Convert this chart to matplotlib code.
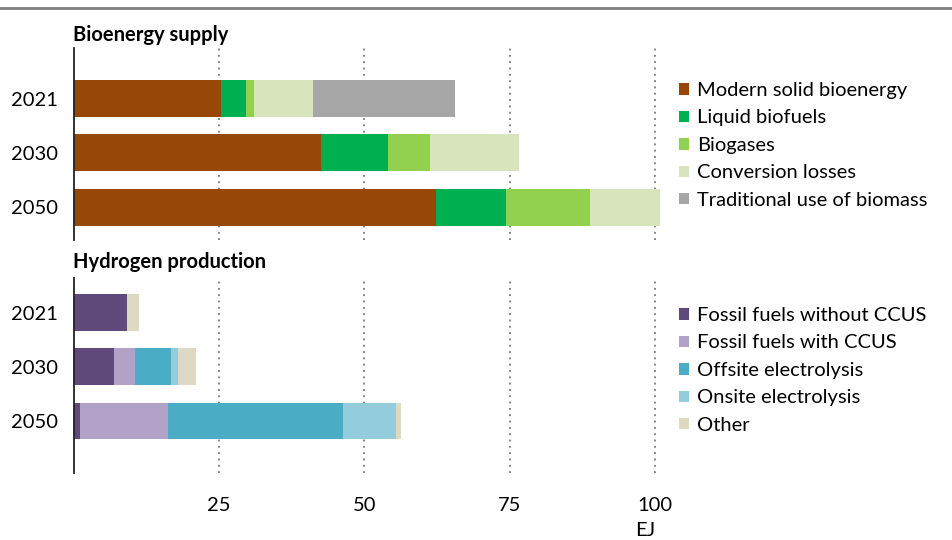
import numpy as np
import matplotlib
matplotlib.use("Agg")
import matplotlib.pyplot as plt
from matplotlib.lines import Line2D

plt.rcParams['font.family'] = ['Lato', 'DejaVu Sans']

years = ["2021", "2030", "2050"]

bio_labels = ["Modern solid bioenergy", "Liquid biofuels", "Biogases",
              "Conversion losses", "Traditional use of biomass"]
bio_colors = ["#974706", "#00B050", "#92D050", "#D8E4BC", "#A6A6A6"]
modern_solid = [25.3, 42.6, 62.4]
liquid_biofuels = [4.3, 11.5, 12.0]
biogases = [1.4, 7.2, 14.5]
conversion_losses = [10.2, 15.3, 11.9]
traditional_biomass = [24.4, 0, 0]

h2_labels = ["Fossil fuels without CCUS", "Fossil fuels with CCUS",
             "Offsite electrolysis", "Onsite electrolysis", "Other"]
h2_colors = ["#604A7B", "#B3A2C7", "#4BACC6", "#93CDDD", "#DDD9C3"]
fossil_no_ccus = [9.2, 6.9, 1.15]
fossil_ccus = [0, 3.7, 15.15]
offsite_elec = [0, 6.1, 30.0]
onsite_elec = [0, 1.2, 9.1]
other = [2.1, 3.2, 0.9]

xticks = [25, 50, 75, 100]

W, H = 952, 540
FS = 14.5
fig = plt.figure(figsize=(W / 100, H / 100), dpi=100)


def px_axes(left, top, right, bottom):
    return fig.add_axes([left / W, 1 - bottom / H, (right - left) / W, (bottom - top) / H])


def stacked(ax, series, colors, labels):
    y = np.arange(len(years))
    left = np.zeros(len(years))
    for vals, c, lab in zip(series, colors, labels):
        ax.barh(y, vals, left=left, height=0.68, color=c, label=lab)
        left += np.array(vals)
    ax.set_yticks(y)
    ax.set_yticklabels(years)
    ax.set_xlim(0, 105)
    ax.set_xticks(xticks)
    for s in ["top", "right", "bottom"]:
        ax.spines[s].set_visible(False)
    ax.spines["left"].set_linewidth(1.3)
    ax.spines["left"].set_color("#222222")
    ax.tick_params(axis="y", length=0, pad=11, labelsize=FS)
    ax.tick_params(axis="x", length=0)
    ax.grid(axis="x", linestyle=(0, (1, 2.5)), color="#777777", linewidth=1.3)
    ax.set_axisbelow(True)


ax1 = px_axes(73.5, 48, 684, 240)
stacked(ax1, [modern_solid, liquid_biofuels, biogases, conversion_losses, traditional_biomass],
        bio_colors, bio_labels)
ax1.set_ylim(2.6, -0.93)
ax1.set_xticklabels([])

ax2 = px_axes(73.5, 278, 684, 473)
stacked(ax2, [fossil_no_ccus, fossil_ccus, offsite_elec, onsite_elec, other],
        h2_colors, h2_labels)
ax2.set_ylim(2.96, -0.64)
ax2.tick_params(axis="x", pad=17, labelsize=FS)

leg_kw = dict(frameon=False, fontsize=FS, handlelength=0.5, handleheight=0.5,
              handletextpad=0.4, labelspacing=0.52, borderpad=0, borderaxespad=0,
              loc="upper left")
fig.legend(*ax1.get_legend_handles_labels(), bbox_to_anchor=(679 / W, 1 - 82 / H), **leg_kw)
fig.legend(*ax2.get_legend_handles_labels(), bbox_to_anchor=(679 / W, 1 - 307 / H), **leg_kw)

fig.text(73 / W, 1 - 35 / H, "Bioenergy supply", fontsize=FS, fontweight="bold", va="center")
fig.text(73 / W, 1 - 262 / H, "Hydrogen production", fontsize=FS, fontweight="bold", va="center")
fig.text(645 / W, 1 - 531 / H, "EJ", fontsize=FS, ha="center", va="center")

fig.add_artist(Line2D([0, 1], [1 - 8 / H, 1 - 8 / H], color="#808080", linewidth=2))

fig.savefig("out.png", dpi=100)
